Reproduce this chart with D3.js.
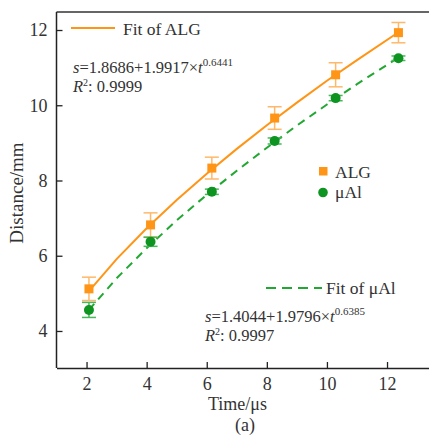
<!DOCTYPE html>
<html>
<head>
<meta charset="utf-8">
<script src="https://cdn.jsdelivr.net/npm/d3@7"></script>
<style>
  body { margin: 0; background: #fff; }
  svg { display: block; font-family: "Liberation Serif", "Times New Roman", serif; }
</style>
</head>
<body>
<div id="chart"></div>
<script>
// measured points
const times = [2.08, 4.13, 6.17, 8.26, 10.29, 12.38]
const algDist = [5.12, 6.82, 8.33, 9.66, 10.81, 11.93]
const algErr = [0.31, 0.32, 0.29, 0.30, 0.32, 0.27]
const alDist = [4.56, 6.37, 7.70, 9.05, 10.19, 11.25]
const alErr = [0.20, 0.12, 0.07, 0.08, 0.07, 0.06]

// fit curves
const fitT = [2.08, 3, 4, 5, 6, 7, 8, 9, 10, 11, 12.38]
const algFit = [5.06, 5.91, 6.73, 7.48, 8.18, 8.84, 9.47, 10.07, 10.65, 11.20, 11.94]
const alFit = [4.56, 5.40, 6.20, 6.94, 7.62, 8.26, 8.87, 9.46, 10.02, 10.56, 11.27]

const xTicks = [2, 4, 6, 8, 10, 12]
const yTicks = [4, 6, 8, 10, 12]

const orange = '#ff9516'
const orangeLight = '#ffb86a'
const green = '#0e9420'
const greenLine = '#22a832'
const greenLight = '#45b85a'

const W = 429, H = 437
const svg = d3.select('#chart').append('svg').attr('width', W).attr('height', H)

const x = d3.scaleLinear().domain([1, 13.5]).range([56.5, 432.1])
const y = d3.scaleLinear().domain([3, 12.5]).range([368.6, 11.2])

// frame top line
svg.append('line')
    .attr('x1', x(1)).attr('x2', W + 5)
    .attr('y1', 12).attr('y2', 12)
    .attr('stroke', '#333').attr('stroke-width', 1.5)

let xAxis = svg.append('g').attr('transform', 'translate(0,368)')
    .call(d3.axisBottom(x).tickValues(xTicks).tickSizeInner(-6).tickSizeOuter(0).tickPadding(9))
let yAxis = svg.append('g').attr('transform', 'translate(56.5,0)')
    .call(d3.axisLeft(y).tickValues(yTicks).tickSizeInner(-6).tickSizeOuter(0).tickPadding(9))
yAxis.select('.domain').attr('d', 'M0,12V368')

for (const ax of [xAxis, yAxis]) {
    ax.selectAll('.domain').attr('stroke', '#222').attr('stroke-width', 1.5)
    ax.selectAll('.tick line').attr('stroke', '#222').attr('stroke-width', 1.3)
    ax.selectAll('.tick text').attr('fill', '#333').style('font-size', '18px')
        .style('font-family', '"Liberation Serif", serif')
}

// fit lines
const line = d3.line().x(d => x(d[0])).y(d => y(d[1]))
svg.append('path')
    .attr('d', line(fitT.map((t, i) => [t, algFit[i]])))
    .attr('fill', 'none').attr('stroke', orange).attr('stroke-width', 2)
svg.append('path')
    .attr('d', line(fitT.map((t, i) => [t, alFit[i]])))
    .attr('fill', 'none').attr('stroke', greenLine).attr('stroke-width', 2)
    .attr('stroke-dasharray', '8,6')

// error bars
function errBars(vals, errs, color) {
    const g = svg.append('g').attr('stroke', color).attr('stroke-width', 1.5)
    times.forEach((t, i) => {
        const cx = x(t)
        const y0 = y(vals[i] - errs[i]), y1 = y(vals[i] + errs[i])
        g.append('line').attr('x1', cx).attr('x2', cx).attr('y1', y0).attr('y2', y1)
        g.append('line').attr('x1', cx - 7).attr('x2', cx + 7).attr('y1', y0).attr('y2', y0)
        g.append('line').attr('x1', cx - 7).attr('x2', cx + 7).attr('y1', y1).attr('y2', y1)
    })
}
errBars(algDist, algErr, orangeLight)
errBars(alDist, alErr, greenLight)

svg.selectAll('rect.alg')
    .data(times.map((t, i) => [t, algDist[i]]))
    .join('rect').classed('alg', true)
    .attr('x', d => x(d[0]) - 4.5).attr('y', d => y(d[1]) - 4.5)
    .attr('width', 9).attr('height', 9)
    .attr('fill', orange)

svg.selectAll('circle.al')
    .data(times.map((t, i) => [t, alDist[i]]))
    .join('circle').classed('al', true)
    .attr('cx', d => x(d[0])).attr('cy', d => y(d[1]))
    .attr('r', 5)
    .attr('fill', green)

// legends
svg.append('line').attr('x1', 71).attr('x2', 115).attr('y1', 28).attr('y2', 28)
    .attr('stroke', orange).attr('stroke-width', 2)
svg.append('text').attr('x', 123).attr('y', 34.5).text('Fit of ALG')
    .style('font-size', '17.5px').attr('fill', '#333')

svg.append('rect').attr('x', 319).attr('y', 167).attr('width', 8.5).attr('height', 8.5).attr('fill', orange)
svg.append('text').attr('x', 335).attr('y', 177.5).text('ALG').style('font-size', '17.5px').attr('fill', '#333')
svg.append('circle').attr('cx', 323).attr('cy', 192.5).attr('r', 4.8).attr('fill', green)
svg.append('text').attr('x', 335).attr('y', 197.5).text('μAl').style('font-size', '17.5px').attr('fill', '#333')

svg.append('line').attr('x1', 266).attr('x2', 322).attr('y1', 288).attr('y2', 288)
    .attr('stroke', greenLine).attr('stroke-width', 2).attr('stroke-dasharray', '10,6')
svg.append('text').attr('x', 326).attr('y', 294).text('Fit of μAl')
    .style('font-size', '17.5px').attr('fill', '#333')

// equations
function equation(x0, yb, a, b, p, r2) {
    const t1 = svg.append('text').attr('x', x0).attr('y', yb).style('font-size', '16.5px').attr('fill', '#333')
    t1.append('tspan').style('font-style', 'italic').text('s')
    t1.append('tspan').text('=' + a + '+' + b + '×')
    t1.append('tspan').style('font-style', 'italic').text('t')
    t1.append('tspan').attr('dy', -7).style('font-size', '11px').text(p)
    const t2 = svg.append('text').attr('x', x0).attr('y', yb + 19).style('font-size', '16.5px').attr('fill', '#333')
    t2.append('tspan').style('font-style', 'italic').text('R')
    t2.append('tspan').attr('dy', -6).style('font-size', '10px').text('2')
    t2.append('tspan').attr('dy', 6).text(': ' + r2)
}
equation(73, 73, '1.8686', '1.9917', '0.6441', '0.9999')
equation(205, 321.5, '1.4044', '1.9796', '0.6385', '0.9997')

// axis titles
svg.append('text').attr('x', 237.5).attr('y', 410).attr('text-anchor', 'middle')
    .style('font-size', '18px').attr('fill', '#333').text('Time/μs')
svg.append('text').attr('x', 245).attr('y', 431).attr('text-anchor', 'middle')
    .style('font-size', '18px').attr('fill', '#333').text('(a)')
svg.append('text').attr('transform', 'translate(23,193) rotate(-90)').attr('text-anchor', 'middle')
    .style('font-size', '19px').attr('fill', '#333').text('Distance/mm')
</script>
</body>
</html>
